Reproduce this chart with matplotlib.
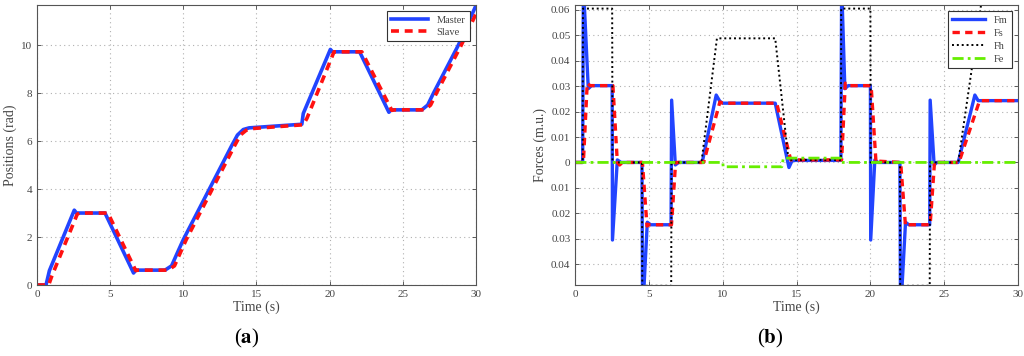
import matplotlib
matplotlib.use('Agg')
import matplotlib.pyplot as plt
from matplotlib.ticker import FuncFormatter

# ---- data ----
# (a) positions
t_master = [0, 0.62, 0.85, 2.55, 2.7, 4.65, 6.6, 6.75, 8.75, 9.2, 9.6, 10.0, 13.3, 13.7, 14.1, 14.5,
            18.1, 18.2, 20.05, 20.2, 22.05, 24.05, 24.2, 26.3, 26.7, 27.1, 28.8, 30]
x_master = [0, 0, 0.6, 3.12, 3.0, 3.0, 0.5, 0.62, 0.62, 0.8, 1.35, 1.89, 5.8, 6.25, 6.48, 6.55,
            6.7, 7.15, 9.82, 9.72, 9.72, 7.2, 7.3, 7.3, 7.5, 8.0, 10.0, 11.65]
t_slave = [0, 0.8, 1.0, 2.75, 2.9, 4.85, 6.75, 6.9, 8.95, 9.4, 9.8, 10.2, 13.5, 13.9, 14.3, 14.7,
           18.2, 18.45, 20.3, 22.2, 24.25, 24.45, 26.5, 26.9, 27.3, 29.0, 30]
x_slave = [0, 0, 0.35, 2.95, 3.0, 3.0, 0.6, 0.62, 0.62, 0.8, 1.35, 1.89, 5.8, 6.25, 6.45, 6.52,
           6.68, 6.95, 9.72, 9.72, 7.28, 7.3, 7.3, 7.5, 8.0, 10.0, 11.3]

# (b) forces
t_fm = [0, 0.5, 0.55, 0.88, 1.1, 2.5, 2.52, 2.85, 3.1, 4.52, 4.56, 4.88, 5.1, 6.49, 6.53, 6.78, 7.0,
        8.6, 9.55, 9.8, 10.0, 13.55, 14.48, 14.7, 18.0, 18.05, 18.27, 18.5, 20.0, 20.02, 20.3, 20.5,
        22.0, 22.04, 22.38, 22.6, 24.02, 24.05, 24.32, 24.5, 25.95, 27.08, 27.3, 30]
fm = [0, 0, 0.07, 0.029, 0.0302, 0.0302, -0.0305, 0.001, 0, 0, -0.06, -0.0235, -0.0245, -0.0245, 0.0245, -0.001, 0,
      0, 0.0265, 0.024, 0.0233, 0.0233, -0.002, 0.0008, 0.0008, 0.07, 0.029, 0.0302, 0.0302, -0.0305, 0.001, 0,
      0, -0.06, -0.0235, -0.0245, -0.0245, 0.0245, -0.001, 0, 0, 0.0265, 0.0243, 0.0243]
t_fs = [0, 0.55, 0.81, 1.0, 2.55, 2.85, 3.0, 3.2, 4.55, 4.86, 5.0, 6.52, 6.8, 8.7, 9.8, 10.0, 13.65, 14.6,
        18.05, 18.3, 18.5, 20.05, 20.38, 20.55, 22.05, 22.38, 22.5, 24.05, 24.35, 24.5, 26.0, 27.4, 30]
fs = [0, 0, 0.0312, 0.0302, 0.0302, 0, -0.001, 0, 0, -0.025, -0.0245, -0.0245, 0, 0, 0.0238, 0.0233, 0.0233, 0.001,
      0.001, 0.0312, 0.0302, 0.0302, 0, 0.0005, 0, -0.025, -0.0245, -0.0245, 0.0005, 0, 0, 0.0243, 0.0243]
t_fh = [0, 0.5, 0.52, 2.5, 2.52, 4.52, 4.54, 6.5, 6.52, 8.55, 9.6, 13.55, 14.45, 18.0, 18.02, 20.0, 20.02,
        22.0, 22.02, 24.02, 24.04, 25.95, 27.7, 30]
fh = [0, 0, 0.0605, 0.0605, 0, 0, -0.0485, -0.0485, 0, 0, 0.0488, 0.0488, 0.001, 0.001, 0.0605, 0.0605, 0,
      0, -0.0485, -0.0485, 0, 0, 0.07, 0.07]
t_fe = [0, 10.0, 10.02, 14.0, 14.1, 18.0, 18.02, 30]
fe = [0, 0, -0.0017, -0.0017, 0.0017, 0.0017, 0, 0]

blue = '#2244ff'
red = '#ff1111'
green = '#66ee00'
grey = '#444444'

plt.rcParams['font.family'] = ['Liberation Serif', 'DejaVu Serif']
plt.rcParams['mathtext.fontset'] = 'stix'

fig = plt.figure(figsize=(10.24, 3.56), dpi=100)
ax1 = fig.add_axes([0.0361, 0.1994, 0.4287, 0.7865])
ax2 = fig.add_axes([0.5618, 0.1994, 0.4323, 0.7865])


def style(ax):
    ax.set_xlim(0, 30)
    ax.set_xticks([0, 5, 10, 15, 20, 25, 30])
    ax.grid(True, color='#b0b0b0', linestyle=(0, (1, 3)), linewidth=0.8)
    ax.tick_params(direction='in', top=True, right=True, labelsize=8, colors=grey,
                   length=3, width=0.6, labelcolor=grey)
    for s in ax.spines.values():
        s.set_color('#555555')
        s.set_linewidth(0.8)
    ax.set_xlabel('Time (s)', fontsize=10, color=grey, labelpad=1)


# ---- (a) ----
ax1.plot(t_master, x_master, color=blue, lw=2.6, label='Master')
ax1.plot(t_slave, x_slave, color=red, lw=2.6, ls=(0, (2.2, 1.6)), label='Slave')
style(ax1)
ax1.set_ylim(0, 11.67)
ax1.set_yticks([0, 2, 4, 6, 8, 10])
ax1.set_ylabel('Positions (rad)', fontsize=10, color=grey, labelpad=3)
leg = ax1.legend(loc='upper right', fontsize=7.5, frameon=True, fancybox=False, framealpha=1,
                 edgecolor='#333333', handlelength=3.6, borderaxespad=0.6, labelspacing=0.3)
leg.get_frame().set_linewidth(0.8)
for txt in leg.get_texts():
    txt.set_color(grey)

# ---- (b) ----
ax2.plot(t_fm, fm, color=blue, lw=2.4, label='Fm')
ax2.plot(t_fs, fs, color=red, lw=2.4, ls=(0, (2.2, 1.6)), label='Fs')
ax2.plot(t_fh, fh, color='black', lw=1.4, ls=(0, (1, 1.5)), label='Fh')
ax2.plot(t_fe, fe, color=green, lw=2.0, ls=(0, (4, 1.5, 1, 1.5)), label='Fe')
style(ax2)
ax2.set_ylim(-0.0482, 0.0619)
ax2.set_yticks([-0.04, -0.03, -0.02, -0.01, 0, 0.01, 0.02, 0.03, 0.04, 0.05, 0.06])
ax2.yaxis.set_major_formatter(FuncFormatter(lambda v, p: '0' if abs(v) < 1e-9 else '%.2f' % abs(v)))
ax2.set_ylabel('Forces (m.u.)', fontsize=10, color=grey, labelpad=3)
leg2 = ax2.legend(loc='upper right', fontsize=7.5, frameon=True, fancybox=False, framealpha=1,
                  edgecolor='#333333', handlelength=3.2, borderaxespad=0.6, labelspacing=0.35)
leg2.get_frame().set_linewidth(0.8)
for txt in leg2.get_texts():
    txt.set_color(grey)

fig.text(0.2405, 0.05, r'($\mathbf{a}$)', fontsize=15, ha='center', va='center')
fig.text(0.752, 0.05, r'($\mathbf{b}$)', fontsize=15, ha='center', va='center')

fig.savefig('out.png', dpi=100)
